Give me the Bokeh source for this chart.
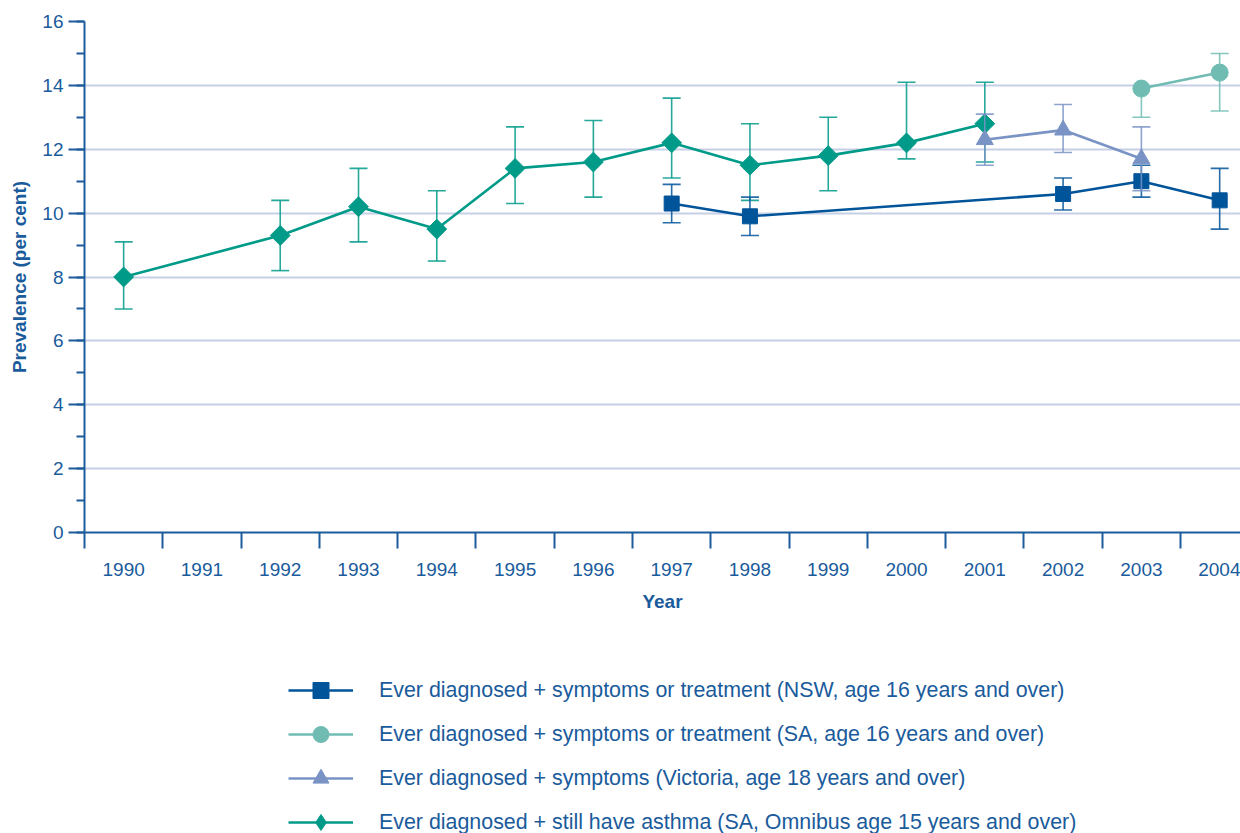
import math
from bokeh.plotting import figure
from bokeh.layouts import column
from bokeh.models import (ColumnDataSource, Range1d, FixedTicker, SingleIntervalTicker,
                          Legend, LegendItem)
from bokeh.embed import file_html
from bokeh.resources import INLINE

# ---------------- data ----------------
years = [1990, 1991, 1992, 1993, 1994, 1995, 1996, 1997, 1998, 1999, 2000, 2001, 2002, 2003, 2004]
year_labels = [str(y) for y in years]

nsw_years = [1997, 1998, 2002, 2003, 2004]
nsw_value = [10.3, 9.9, 10.6, 11.0, 10.4]
nsw_lower = [9.7, 9.3, 10.1, 10.5, 9.5]
nsw_upper = [10.9, 10.5, 11.1, 11.5, 11.4]

sa_years = [2003, 2004]
sa_value = [13.9, 14.4]
sa_lower = [13.0, 13.2]
sa_upper = [None, 15.0]

vic_years = [2001, 2002, 2003]
vic_value = [12.3, 12.6, 11.7]
vic_lower = [11.5, 11.9, 10.7]
vic_upper = [13.1, 13.4, 12.7]

omni_years = [1990, 1992, 1993, 1994, 1995, 1996, 1997, 1998, 1999, 2000, 2001]
omni_value = [8.0, 9.3, 10.2, 9.5, 11.4, 11.6, 12.2, 11.5, 11.8, 12.2, 12.8]
omni_lower = [7.0, 8.2, 9.1, 8.5, 10.3, 10.5, 11.1, 10.4, 10.7, 11.7, 11.6]
omni_upper = [9.1, 10.4, 11.4, 10.7, 12.7, 12.9, 13.6, 12.8, 13.0, 14.1, 14.1]

labels = [
    "Ever diagnosed + symptoms or treatment (NSW, age 16 years and over)",
    "Ever diagnosed + symptoms or treatment (SA, age 16 years and over)",
    "Ever diagnosed + symptoms (Victoria, age 18 years and over)",
    "Ever diagnosed + still have asthma (SA, Omnibus age 15 years and over)",
]

# ---------------- style ----------------
TEXT = "#1a5b9c"
AXIS = "#1d5c9c"
GRID = "#c5cfe5"
FONT = "Liberation Sans"
C_NSW = "#00549a"
C_SA = "#70bcb3"
C_VIC = "#7a93c5"
C_OMNI = "#009a88"

p = figure(width=1240, height=620, output_backend="svg", toolbar_location=None,
           x_range=Range1d(1989.5, 2004.266), y_range=Range1d(0, 16),
           min_border_left=84, min_border_right=0, min_border_top=21,
           min_border_bottom=88)
p.outline_line_color = None
p.background_fill_color = "white"
p.border_fill_color = "white"

# axes
p.xaxis.ticker = FixedTicker(ticks=years, minor_ticks=[y - 0.5 for y in years])
p.xaxis.major_label_overrides = {y: s for y, s in zip(years, year_labels)}
p.xaxis.major_tick_out = 0
p.xaxis.major_tick_in = 0
p.xaxis.minor_tick_out = 16
p.xaxis.minor_tick_in = 0
p.xaxis.major_label_standoff = 14
p.xaxis.axis_label = "Year"
p.xaxis.axis_label_standoff = 12

p.yaxis.ticker = SingleIntervalTicker(interval=2, num_minor_ticks=2)
p.yaxis.major_tick_out = 16
p.yaxis.major_tick_in = 0
p.yaxis.minor_tick_out = 8
p.yaxis.minor_tick_in = 0
p.yaxis.major_label_standoff = 5
p.yaxis.axis_label = "Prevalence (per cent)"
p.yaxis.axis_label_standoff = 9

for ax in (p.xaxis[0], p.yaxis[0]):
    ax.axis_line_color = AXIS
    ax.axis_line_width = 2
    ax.major_tick_line_color = AXIS
    ax.major_tick_line_width = 2
    ax.minor_tick_line_color = AXIS
    ax.minor_tick_line_width = 2
    ax.major_label_text_font = FONT
    ax.major_label_text_font_size = "19px"
    ax.major_label_text_color = TEXT
    ax.axis_label_text_font = FONT
    ax.axis_label_text_font_size = "19px"
    ax.axis_label_text_font_style = "bold"
    ax.axis_label_text_color = TEXT

p.xgrid.visible = False
p.ygrid.grid_line_color = GRID
p.ygrid.grid_line_width = 2


def series(xs, vals, lows, highs, color, marker, size, angle=0.0):
    # error bars: vertical segment plus caps at the ends
    seg_x, seg_y0, seg_y1, cap_x, cap_y = [], [], [], [], []
    for x, v, lo, hi in zip(xs, vals, lows, highs):
        top = hi if hi is not None else v
        bot = lo if lo is not None else v
        seg_x.append(x); seg_y0.append(bot); seg_y1.append(top)
        if hi is not None:
            cap_x.append(x); cap_y.append(hi)
        if lo is not None:
            cap_x.append(x); cap_y.append(lo)
    p.segment(x0=seg_x, y0=seg_y0, x1=seg_x, y1=seg_y1, line_color=color,
              line_width=1.6, line_alpha=0.85)
    p.scatter(x=cap_x, y=cap_y, marker="dash", size=18, line_color=color,
              line_width=1.6, line_alpha=0.85)
    src = ColumnDataSource(dict(x=xs, y=vals))
    p.line("x", "y", source=src, line_color=color, line_width=2.6)
    p.scatter("x", "y", source=src, marker=marker, size=size, angle=angle,
              fill_color=color, line_color=color, line_width=1)
    return src


styles = [
    (C_NSW, "square", 15, 0.0),
    (C_SA, "circle", 17, 0.0),
    (C_VIC, "triangle", 17, 0.0),
    (C_OMNI, "square", 14, math.pi / 4),
]
# legend swatches cannot be rotated, so the diamond series uses Bokeh's diamond there
legend_markers = ["square", "circle", "triangle", "diamond"]

s_omni = series(omni_years, omni_value, omni_lower, omni_upper, *styles[3])
s_nsw = series(nsw_years, nsw_value, nsw_lower, nsw_upper, *styles[0])
s_vic = series(vic_years, vic_value, vic_lower, vic_upper, *styles[2])
s_sa = series(sa_years, sa_value, sa_lower, sa_upper, *styles[1])
sources = [s_nsw, s_sa, s_vic, s_omni]

# ---------------- legend (separate strip below the chart) ----------------
# the strip's ranges keep the series themselves out of view; only the legend shows
lg = figure(width=1240, height=213, output_backend="svg", toolbar_location=None,
            x_range=Range1d(0, 1), y_range=Range1d(0, 1),
            x_axis_location=None, y_axis_location=None,
            min_border=0, min_border_left=0, min_border_right=0,
            min_border_top=0, min_border_bottom=0)
lg.outline_line_color = None
lg.grid.visible = False
lg.border_fill_color = "white"

items = []
for lab, src, lm, (color, marker, size, angle) in zip(labels, sources, legend_markers, styles):
    ln = lg.line("x", "y", source=src, line_color=color, line_width=2.6)
    sc = lg.scatter("x", "y", source=src, marker=lm, size=size,
                    fill_color=color, line_color=color, line_width=1)
    items.append(LegendItem(label=lab, renderers=[ln, sc]))

legend = Legend(items=items, location=(204, -9), glyph_width=65, glyph_height=40,
                label_height=40, label_standoff=26, spacing=4, padding=0, margin=0,
                border_line_color=None, background_fill_alpha=0,
                label_text_font=FONT, label_text_font_size="21.4px",
                label_text_color=TEXT)
lg.add_layout(legend)

open("out.html", "w").write(file_html(column(p, lg), INLINE))
